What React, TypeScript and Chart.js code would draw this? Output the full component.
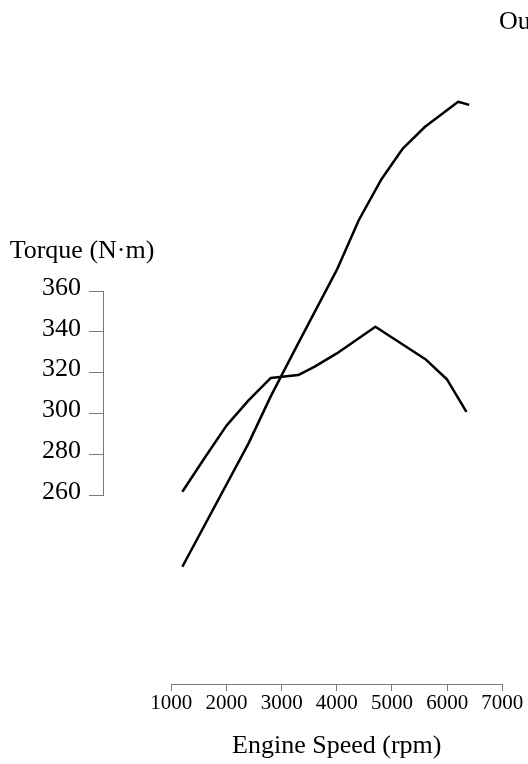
import React, { useEffect, useRef } from "react";
import { Chart, registerables } from "chart.js";

Chart.register(...registerables);

// ---- data ----
const torqueRpm = [1200, 1600, 2000, 2400, 2800, 3300, 3600, 4000, 4700, 5600, 6000, 6350];
const torqueNm = [261.6, 278, 294, 306.4, 317.3, 318.8, 322.9, 329.4, 342.5, 326.7, 316.6, 300.7];

const powerRpm = [1200, 2400, 2800, 3300, 4000, 4400, 4800, 5200, 5600, 6200, 6400];
const powerKw = [32.9, 76.4, 92.9, 111.7, 137.6, 155.2, 169.3, 180.5, 188.1, 196.9, 195.8];

const torqueTicks = [260, 280, 300, 320, 340, 360];
const rpmTicks = [1000, 2000, 3000, 4000, 5000, 6000, 7000];
const powerTicks = [0, 50, 100, 150, 200];

const torqueTitle = "Torque (N·m)";
const powerTitle = "Output (kW)";
const rpmTitle = "Engine Speed (rpm)";

const FONT = "'Liberation Serif', 'Times New Roman', serif";
const AXIS_GREY = "#7a7a7a";

const axisTitles = {
  id: "axisTitles",
  afterDraw(chart: any) {
    const ctx = chart.ctx;
    const t = chart.scales.torque;
    const p = chart.scales.power;
    ctx.save();
    ctx.font = `26px ${FONT}`;
    ctx.fillStyle = "#000";
    ctx.textBaseline = "alphabetic";
    ctx.textAlign = "center";
    ctx.fillText(torqueTitle, t.right - 21, t.top - 33);
    ctx.textAlign = "left";
    ctx.fillText(powerTitle, p.left - 40.5, p.top - 64);
    ctx.restore();
  },
};

const spacer = (extra: any) => ({
  type: "linear",
  display: true,
  ticks: { display: false },
  grid: { display: false, drawTicks: false },
  border: { display: false },
  ...extra,
});

export default function App() {
  const ref = useRef<HTMLCanvasElement | null>(null);

  useEffect(() => {
    if (!ref.current) return;
    const chart = new Chart(ref.current, {
      type: "line",
      data: {
        datasets: [
          {
            label: "Torque",
            data: torqueRpm.map((r, i) => ({ x: r, y: torqueNm[i] })),
            yAxisID: "torque",
            borderColor: "#000",
            borderWidth: 2.5,
            pointRadius: 0,
            borderJoinStyle: "round",
            fill: false,
            clip: false,
          },
          {
            label: "Output",
            data: powerRpm.map((r, i) => ({ x: r, y: powerKw[i] })),
            yAxisID: "power",
            borderColor: "#000",
            borderWidth: 2.5,
            pointRadius: 0,
            borderJoinStyle: "round",
            fill: false,
            clip: false,
          },
        ],
      },
      options: {
        responsive: false,
        animation: false,
        layout: { padding: { top: 85, left: 0, right: 0, bottom: 0 } },
        plugins: {
          legend: { display: false },
          title: { display: false },
          tooltip: { enabled: false },
        },
        scales: {
          x: {
            type: "linear",
            position: "bottom",
            min: rpmTicks[0],
            max: rpmTicks[rpmTicks.length - 1],
            afterBuildTicks: (s: any) => {
              s.ticks = rpmTicks.map((v) => ({ value: v }));
            },
            ticks: {
              color: "#000",
              padding: 0,
              maxRotation: 0,
              autoSkip: false,
              font: { family: FONT, size: 21 },
              callback: (v: any) => String(v),
            },
            grid: { drawOnChartArea: false, drawTicks: true, tickLength: 7, color: AXIS_GREY },
            border: { display: true, color: AXIS_GREY },
            title: {
              display: true,
              text: rpmTitle,
              color: "#000",
              font: { family: FONT, size: 26 },
              padding: { top: 0, bottom: 2 },
            },
            afterFit: (s: any) => {
              s.height = 80;
            },
          },
          leftTop: spacer({
            position: "left",
            stack: "left",
            stackWeight: 198,
            weight: 2.2,
            afterFit: (s: any) => {
              s.width = 95;
            },
          }),
          torque: {
            type: "linear",
            position: "left",
            stack: "left",
            stackWeight: 204,
            weight: 2.1,
            min: torqueTicks[0],
            max: torqueTicks[torqueTicks.length - 1],
            afterBuildTicks: (s: any) => {
              s.ticks = torqueTicks.map((v) => ({ value: v }));
            },
            ticks: {
              color: "#000",
              padding: 8,
              labelOffset: -3,
              autoSkip: false,
              font: { family: FONT, size: 26 },
              callback: (v: any) => String(v),
            },
            grid: { drawOnChartArea: false, drawTicks: true, tickLength: 14, color: AXIS_GREY },
            border: { display: true, color: AXIS_GREY },
            afterFit: (s: any) => {
              s.width = 95;
            },
          },
          leftBottom: spacer({
            position: "left",
            stack: "left",
            stackWeight: 189,
            weight: 2.0,
            afterFit: (s: any) => {
              s.width = 95;
            },
          }),
          leftGap: spacer({
            position: "left",
            weight: 0,
            afterFit: (s: any) => {
              s.width = 68.3;
            },
          }),
          rightGap: spacer({
            position: "right",
            weight: 0,
            afterFit: (s: any) => {
              s.width = 37.2;
            },
          }),
          power: {
            type: "linear",
            position: "right",
            stack: "right",
            stackWeight: 567,
            weight: 1.0,
            min: powerTicks[0],
            max: powerTicks[powerTicks.length - 1],
            afterBuildTicks: (s: any) => {
              s.ticks = powerTicks.map((v) => ({ value: v }));
            },
            ticks: {
              color: "#000",
              padding: 8,
              autoSkip: false,
              font: { family: FONT, size: 26 },
            },
            grid: { drawOnChartArea: false, drawTicks: true, tickLength: 14, color: AXIS_GREY },
            border: { display: true, color: AXIS_GREY },
            afterFit: (s: any) => {
              s.width = 88.5;
            },
          },
          rightBottom: spacer({
            position: "right",
            stack: "right",
            stackWeight: 24,
            weight: 1.1,
            afterFit: (s: any) => {
              s.width = 88.5;
            },
          }),
        },
      } as any,
      plugins: [axisTitles],
    });
    return () => chart.destroy();
  }, []);

  return (
    <div
      style={{
        position: "absolute",
        left: 8,
        top: 8,
        width: 520,
        height: 756,
        overflow: "hidden",
        background: "#fff",
      }}
    >
      <canvas ref={ref} width={620} height={756} style={{ width: 620, height: 756, display: "block" }} />
    </div>
  );
}
